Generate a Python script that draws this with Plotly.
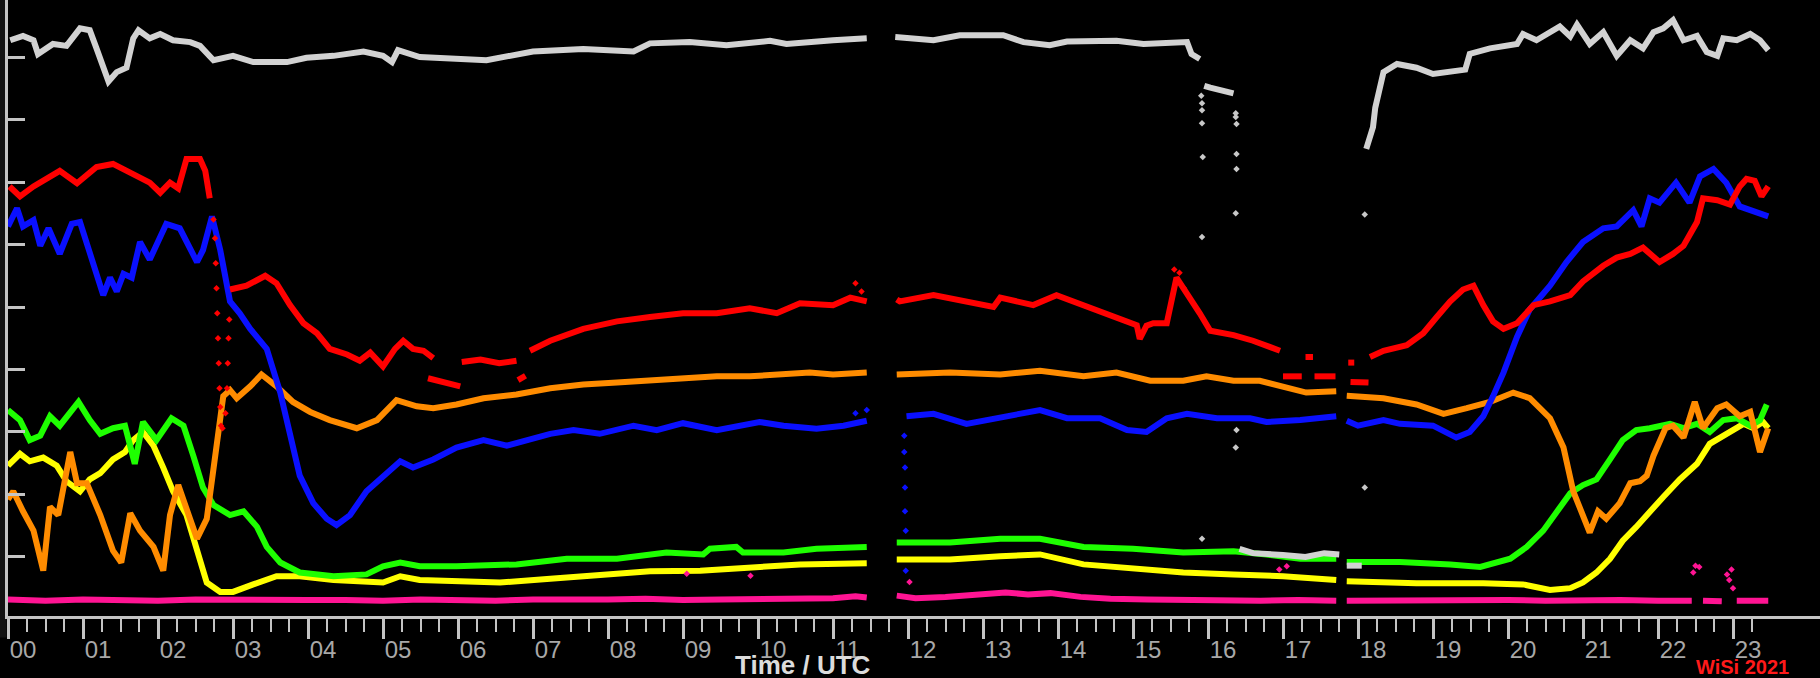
import plotly.graph_objects as go

# ---------------- data (hours UTC, signal level) ----------------
hour_labels = ["%02d" % h for h in range(24)]
y_tick_values = [10, 20, 30, 40, 50, 60, 70, 80, 90]

gray_t = [0.03,0.2,0.34,0.4,0.6,0.78,0.96,1.09,1.18,1.27,1.34,1.45,1.58,1.67,1.74,1.89,2.03,2.2,2.43,2.56,2.74,3.0,3.27,3.45,3.72,3.98,4.34,4.74,5.0,5.12,5.2,5.49,5.98,6.38,7.0,7.67,8.34,8.56,9.09,9.58,10.16,10.38,11.0,11.45,None,
          11.83,12.34,12.69,13.27,13.54,13.89,14.12,14.78,15.14,15.72,15.78,15.89,None,
          15.95,16.03,16.34,None,
          16.42,16.6,17.0,17.3,17.55,17.75,None,17.85,18.05,None,
          18.11,18.2,18.23,18.27,18.32,18.34,18.52,18.78,19.0,19.23,19.43,19.49,19.76,20.12,20.2,20.38,20.56,20.69,20.83,20.92,21.09,21.27,21.45,21.63,21.8,21.94,22.07,22.2,22.34,22.52,22.65,22.79,22.87,23.05,23.23,23.36,23.47]
gray_v = [92.7,93.4,92.7,90.5,92.1,91.8,94.6,94.3,91.4,88.3,86.1,87.6,88.3,93.0,94.3,93.0,93.7,92.7,92.4,91.8,89.5,90.2,89.2,89.2,89.2,89.9,90.2,90.9,90.2,89.2,91.1,90.0,89.7,89.5,90.9,91.3,90.9,92.2,92.4,91.9,92.6,92.1,92.7,93.0,None,
          93.2,92.7,93.5,93.5,92.4,91.9,92.5,92.6,92.1,92.4,90.5,89.7,None,
          85.4,85.1,84.2,None,
          11.3,10.6,10.3,10.0,10.6,10.4,None,8.6,8.6,None,
          75.3,78.8,81.9,84.2,86.4,87.6,88.9,88.3,87.3,87.6,88.0,90.5,91.4,92.1,93.7,92.7,94.0,94.9,93.3,95.2,92.1,94.0,90.2,92.7,91.4,94.0,94.6,95.9,92.7,93.4,90.8,90.2,93.0,92.7,93.7,92.7,91.1]
gray_dot_t = [15.91,15.92,15.92,15.92,15.93,15.92,16.37,16.37,16.38,16.38,16.38,16.37,16.38,16.37,18.09,18.09,15.92]
gray_dot_v = [83.8,82.6,81.5,79.4,74.0,61.2,81.0,80.4,79.3,74.5,72.1,65.0,30.3,27.5,64.8,21.1,12.9]

red_t = [0.02,0.16,0.34,0.69,0.92,1.18,1.4,1.67,1.89,2.03,2.16,2.27,2.38,2.56,2.63,2.69,None,
         2.96,3.18,3.43,3.58,3.76,3.94,4.12,4.29,4.52,4.69,4.83,5.0,5.16,5.27,5.4,5.54,5.67,None,
         5.6,5.8,6.03,None,6.05,6.3,6.55,6.78,None,6.8,6.9,None,
         6.96,7.23,7.67,8.12,8.56,9.0,9.45,9.89,10.25,10.56,11.0,11.23,11.45,None,
         11.85,11.89,12.34,12.78,13.14,13.23,13.67,13.98,14.34,14.78,15.05,15.09,15.18,15.27,15.45,15.58,15.72,15.89,16.03,16.34,16.6,16.96,None,
         17.0,17.25,None,17.3,17.4,None,17.42,17.7,None,17.87,17.95,None,17.9,18.14,None,
         18.16,18.34,18.65,18.87,19.05,19.23,19.4,19.54,19.67,19.8,19.94,20.12,20.34,20.56,20.83,21.0,21.27,21.45,21.63,21.8,22.02,22.2,22.34,22.52,22.6,22.79,22.96,23.09,23.18,23.29,23.38,23.47]
red_v = [69.3,67.7,69.3,71.8,69.8,72.4,72.9,71.2,69.9,68.3,69.9,69.0,73.7,73.7,71.8,67.4,None,
         52.8,53.4,55.0,53.8,50.3,47.4,45.8,43.3,42.4,41.4,42.7,40.5,43.3,44.6,43.3,43.0,41.8,None,
         38.6,38.0,37.3,None,41.2,41.6,41.0,41.4,None,38.3,39.0,None,
         43.0,44.6,46.5,47.7,48.4,49.0,49.0,49.8,49.0,50.6,50.3,51.5,50.9,None,
         51.2,50.9,51.9,50.9,50.0,51.5,50.3,51.9,50.3,48.4,47.1,44.9,47.0,47.4,47.4,54.7,52.2,49.0,46.2,45.5,44.6,43.0,None,
         38.9,38.9,None,42.0,42.0,None,38.9,38.9,None,41.1,41.1,None,38.0,37.9,None,
         42.0,43.0,43.9,45.8,48.4,50.9,52.8,53.4,50.3,47.7,46.5,47.4,50.3,50.9,51.9,54.1,56.6,57.9,58.5,59.5,57.2,58.5,59.8,63.6,67.4,67.1,66.4,69.3,70.5,70.2,67.7,69.3]
red_dot_t = [2.74,2.76,2.77,2.78,2.79,2.8,2.81,2.82,2.83,2.84,2.86,2.9,2.92,2.93,2.94,2.95,15.55,15.62,15.68,11.3,11.38]
red_dot_v = [64.0,61.0,57.0,53.0,49.0,45.0,41.0,37.0,34.0,31.0,30.6,33.0,37.0,41.0,45.0,48.0,56.0,55.5,53.0,53.8,52.5]

blue_t = [0.0,0.12,0.2,0.34,0.43,0.54,0.69,0.85,0.96,1.09,1.27,1.36,1.45,1.54,1.65,1.76,1.89,2.11,2.29,2.52,2.6,2.72,2.83,2.96,3.09,3.23,3.45,3.63,3.76,3.89,4.07,4.25,4.38,4.56,4.78,4.96,5.14,5.23,5.4,5.67,5.98,6.34,6.65,7.23,7.54,7.89,8.34,8.65,9.0,9.45,10.02,10.34,10.78,11.14,11.45,None,
          11.98,12.34,12.78,13.23,13.76,14.12,14.56,14.92,15.18,15.45,15.72,16.12,16.56,16.78,17.23,17.71,None,
          17.85,18.0,18.34,18.56,19.0,19.31,19.49,19.67,19.8,19.94,20.12,20.29,20.56,20.78,21.0,21.27,21.45,21.67,21.78,21.89,22.02,22.24,22.42,22.56,22.74,22.91,23.09,23.23,23.47]
blue_v = [62.9,65.8,62.9,63.9,59.8,62.6,58.5,63.3,63.6,58.8,51.9,54.7,52.5,55.3,54.7,60.4,57.6,63.3,62.6,57.2,59.1,64.5,59.1,50.9,49.0,46.5,43.3,36.3,29.4,23.0,18.6,16.1,15.1,16.7,20.5,22.4,24.3,25.3,24.3,25.6,27.5,28.7,27.8,29.7,30.3,29.7,31.0,30.3,31.4,30.3,31.6,31.0,30.5,31.0,31.8,None,
          32.5,32.9,31.3,32.2,33.5,32.2,32.2,30.3,30.0,32.2,32.9,32.2,32.2,31.6,31.9,32.5,None,
          31.8,31.0,31.9,31.3,31.0,29.1,30.0,32.5,35.7,39.5,45.2,49.6,53.4,57.2,60.4,62.6,62.9,65.5,62.9,67.4,66.7,69.9,66.7,70.9,72.1,69.9,66.1,65.5,64.5]
blue_dot_t = [11.95,11.95,11.96,11.96,11.96,11.97,11.97,11.45,11.3]
blue_dot_v = [29.4,26.8,24.3,21.1,17.3,14.2,7.8,33.5,33.0]

orange_t = [0.0,0.07,0.2,0.34,0.47,0.56,0.67,0.83,0.92,1.05,1.23,1.4,1.51,1.63,1.76,1.94,2.07,2.16,2.27,2.38,2.52,2.65,2.78,2.87,2.96,3.05,3.23,3.38,3.58,3.8,4.03,4.29,4.65,4.92,5.18,5.45,5.67,5.98,6.34,6.78,7.23,7.67,8.12,8.56,9.0,9.45,9.89,10.34,10.69,11.0,11.45,None,
            11.85,12.56,13.23,13.76,14.34,14.78,15.23,15.67,15.98,16.34,16.69,17.0,17.31,17.71,None,
            17.85,18.34,18.78,19.14,19.45,19.76,20.07,20.29,20.56,20.74,20.87,21.0,21.09,21.2,21.31,21.49,21.63,21.76,21.85,21.94,22.1,22.2,22.34,22.49,22.6,22.79,22.91,23.09,23.23,23.36,23.47]
orange_v = [19.2,20.5,17.3,14.2,7.8,18.0,16.7,26.8,21.8,21.8,16.7,11.0,9.1,17.0,14.2,11.6,7.8,16.7,21.5,18.0,12.9,16.1,26.8,35.7,36.7,35.4,37.3,39.2,37.3,34.8,33.2,31.9,30.6,31.9,35.1,34.1,33.8,34.4,35.4,36.0,37.0,37.6,37.9,38.2,38.6,38.9,38.9,39.2,39.5,39.2,39.5,None,
            39.2,39.5,39.2,39.8,38.9,39.5,38.2,38.2,38.9,38.2,38.2,37.3,36.3,36.5,None,
            35.8,35.4,34.4,32.9,33.8,34.8,36.3,35.4,32.2,27.5,20.5,16.7,13.9,17.3,16.1,18.6,21.8,22.1,23.0,26.2,30.6,31.0,29.1,34.8,30.6,33.8,34.4,32.5,33.2,26.8,30.6]

green_t = [0.0,0.16,0.29,0.43,0.56,0.69,0.94,1.09,1.23,1.4,1.56,1.69,1.8,1.98,2.18,2.34,2.47,2.6,2.74,2.96,3.14,3.32,3.45,3.63,3.89,4.34,4.78,5.0,5.23,5.49,5.98,6.78,7.45,8.12,8.78,9.27,9.36,9.71,9.8,10.34,10.78,11.45,None,
           11.85,12.56,13.23,13.76,14.34,15.0,15.67,16.34,16.78,17.23,17.71,None,
           17.85,18.56,19.23,19.63,20.03,20.25,20.47,20.65,20.83,21.0,21.18,21.36,21.53,21.71,21.89,22.16,22.34,22.52,22.69,22.87,23.05,23.23,23.36,23.45]
green_v = [33.5,31.9,28.7,29.4,32.5,31.0,34.8,31.9,29.7,30.6,31.0,24.9,31.6,28.7,32.2,31.0,26.2,21.1,18.3,16.7,17.3,14.8,11.6,9.1,7.5,6.9,7.2,8.5,9.1,8.5,8.5,8.8,9.7,9.7,10.7,10.4,11.3,11.6,10.7,10.7,11.3,11.6,None,
           12.3,12.3,12.9,12.9,11.6,11.3,10.7,10.9,10.4,9.7,9.7,None,
           9.2,9.2,8.8,8.4,9.7,11.6,14.2,17.3,20.2,21.5,22.4,25.6,28.7,30.3,30.6,31.3,30.6,31.3,30.0,31.9,32.2,31.0,31.9,34.4]

yellow_t = [0.0,0.16,0.29,0.47,0.65,0.78,0.96,1.09,1.23,1.4,1.56,1.67,1.8,1.94,2.07,2.2,2.38,2.52,2.65,2.83,3.0,3.27,3.58,3.89,4.34,5.0,5.23,5.49,5.98,6.56,7.23,7.89,8.56,9.23,9.89,10.56,11.45,None,
            11.85,12.56,13.23,13.76,14.34,15.0,15.67,16.34,17.0,17.71,None,
            17.85,18.78,19.67,20.2,20.56,20.83,21.0,21.18,21.36,21.53,21.71,21.89,22.07,22.29,22.52,22.69,22.87,23.0,23.14,23.27,23.4,23.47]
yellow_v = [24.6,26.5,25.3,25.9,24.6,22.1,20.5,22.4,23.4,25.6,26.8,28.7,30.0,27.8,24.3,20.5,16.7,11.0,5.9,4.4,4.4,5.6,6.9,6.9,6.3,5.9,6.9,6.3,6.1,5.9,6.5,7.2,7.7,7.8,8.3,8.8,9.0,None,
            9.6,9.6,10.1,10.4,8.8,8.2,7.5,7.2,6.9,6.3,None,
            6.1,5.8,5.8,5.6,4.7,5.0,5.9,7.5,9.7,12.6,14.8,17.3,19.6,22.4,24.9,28.1,29.4,30.3,31.3,30.6,31.6,30.6]

magenta_t = [0.0,0.5,1.0,1.5,2.0,2.5,3.0,3.5,4.0,4.5,5.0,5.5,6.0,6.5,7.0,7.5,8.0,8.5,9.0,9.5,10.0,10.5,11.0,11.3,11.45,None,
             11.85,12.1,12.5,12.9,13.3,13.6,13.9,14.3,14.7,15.2,15.7,16.2,16.7,17.2,17.71,None,
             17.85,18.5,19.0,19.5,20.0,20.5,21.0,21.5,22.0,22.45,None,22.6,22.85,None,23.05,23.47]
magenta_v = [3.2,3.0,3.2,3.1,3.0,3.2,3.1,3.0,3.1,3.1,3.0,3.2,3.1,3.0,3.2,3.1,3.2,3.3,3.1,3.2,3.3,3.3,3.4,3.7,3.5,None,
             3.8,3.4,3.6,3.9,4.3,4.0,4.2,3.6,3.3,3.2,3.1,3.2,3.0,3.1,3.0,None,
             3.0,3.1,3.0,3.1,3.1,3.0,3.1,3.1,3.0,3.0,None,3.0,2.9,None,3.0,3.0]
magenta_dot_t = [22.47,22.5,22.55,22.92,22.95,22.98,23.0,9.05,9.9,16.95,17.05,12.02]
magenta_dot_v = [7.5,8.6,8.4,7.2,6.3,8.0,5.0,7.3,7.0,8.0,8.5,6.0]

# ---------------- styling ----------------
series = [
    ("magenta", magenta_t, magenta_v, "#ff1493"),
    ("yellow", yellow_t, yellow_v, "#ffff00"),
    ("green", green_t, green_v, "#1eff00"),
    ("orange", orange_t, orange_v, "#ff8c00"),
    ("blue", blue_t, blue_v, "#0a10ff"),
    ("red", red_t, red_v, "#ff0000"),
    ("gray", gray_t, gray_v, "#d2d2d2"),
]
dots = [
    (magenta_dot_t, magenta_dot_v, "#ff1493"),
    (blue_dot_t, blue_dot_v, "#0a10ff"),
    (red_dot_t, red_dot_v, "#ff0000"),
    (gray_dot_t, gray_dot_v, "#c8c8c8"),
]

fig = go.Figure()
for name, t, v, c in series:
    fig.add_trace(go.Scatter(x=t, y=v, mode="lines", name=name,
                             line=dict(color=c, width=6), connectgaps=False,
                             showlegend=False, hoverinfo="skip"))
for t, v, c in dots:
    fig.add_trace(go.Scatter(x=t, y=v, mode="markers",
                             marker=dict(color=c, size=5, symbol="diamond"),
                             showlegend=False, hoverinfo="skip"))

axis_col = "#c4c4c4"
minor_vals = [q / 4 for q in range(0, 94)]

fig.update_layout(
    width=1820, height=678,
    paper_bgcolor="#000000", plot_bgcolor="#000000",
    margin=dict(l=8, r=0, t=0, b=62),
    xaxis=dict(range=[0, 24.16], showgrid=False, zeroline=False,
               showline=True, linecolor=axis_col, linewidth=3,
               tickmode="array", tickvals=list(range(24)), ticktext=hour_labels,
               ticks="outside", ticklen=20, tickwidth=3, tickcolor=axis_col,
               ticklabelshift=15, ticklabelstandoff=-10,
               tickfont=dict(family="Liberation Sans, Arial, sans-serif", size=24, color="#a8a8a8"),
               minor=dict(tickmode="array", tickvals=minor_vals, ticks="outside",
                          ticklen=13, tickwidth=2, tickcolor=axis_col, showgrid=False)),
    yaxis=dict(range=[0.54, 99.14], showgrid=False, zeroline=False,
               showline=True, linecolor=axis_col, linewidth=3,
               tickmode="array", tickvals=y_tick_values, showticklabels=False,
               ticks="inside", ticklen=17, tickwidth=3, tickcolor=axis_col),
    shapes=[dict(type="rect", xref="paper", yref="paper", x0=-0.0045, x1=-0.0008,
                 y0=-0.035, y1=1, fillcolor="#121212", line=dict(width=0), layer="below")],
    annotations=[
        dict(text="<b>Time / UTC</b>", x=10.6, xref="x", y=-0.0795, yref="paper",
             xanchor="center", yanchor="middle", showarrow=False,
             font=dict(family="Liberation Sans, Arial, sans-serif", size=26, color="#dcdcdc")),
        dict(text="<b>WiSi 2021</b>", x=23.12, xref="x", y=-0.083, yref="paper",
             xanchor="center", yanchor="middle", showarrow=False,
             font=dict(family="Liberation Sans, Arial, sans-serif", size=20, color="#ff1a1a")),
    ],
)

fig.write_html("out.html", config={"displayModeBar": False},
               post_script="document.body.style.margin='0';document.body.style.background='#000';")
